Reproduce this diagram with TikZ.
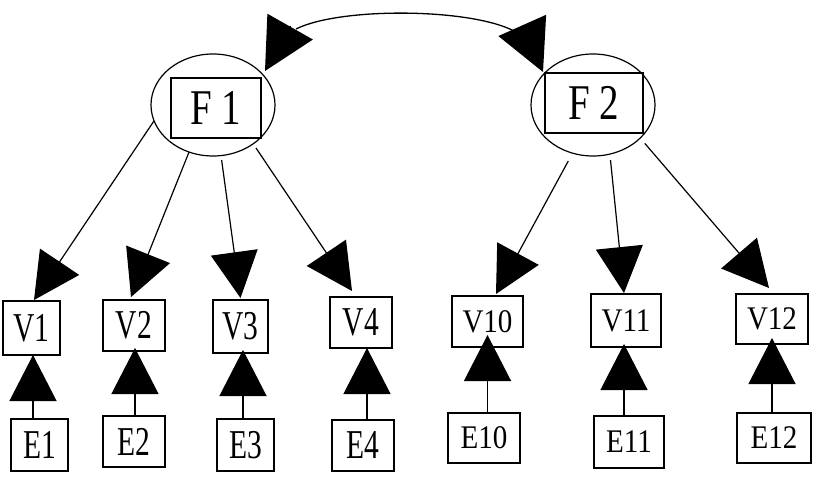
\documentclass[tikz,border=0pt]{standalone}
\usepackage{fontspec}
\setmainfont{Liberation Serif}
\usetikzlibrary{arrows.meta,shapes.geometric}
\newcommand\labA[1]{\fontsize{41}{41}\selectfont\scalebox{0.72}[1]{#1}}
\newcommand\labB[1]{\fontsize{33}{33}\selectfont\scalebox{0.88}[1]{#1}}
\newcommand\labF[1]{\fontsize{50}{50}\selectfont\scalebox{0.78}[1]{#1}}
\tikzset{
  box/.style={draw, line width=1.4pt, inner sep=0pt, outer sep=0pt},
  fell/.style={draw, ellipse, line width=1.2pt, inner sep=0pt, outer sep=0pt, minimum width=124pt, minimum height=102pt},
  larr/.style={line width=1.2pt, -{Triangle[length=46pt,width=47pt]}},
  carc/.style={line width=1.3pt},
  chead/.style={line width=1.3pt, -{Triangle[length=51pt,width=52pt]}}
}
\begin{document}
\begin{tikzpicture}[x=1pt,y=-1pt]
\useasboundingbox (0,0) rectangle (818,478);
% factors
\node[fell] (F1) at (213,105) {};
\node[box, minimum width=90pt, minimum height=60pt] (F1box) at (216,108) {\labF{F 1}};
\node[fell] (F2) at (593,105) {};
\node[box, minimum width=98pt, minimum height=60pt] (F2box) at (594,103) {\labF{F 2}};
% observed variables
\node[box, minimum width=57pt, minimum height=54pt] (V1) at (31.5,328) {\labA{V1}};
\node[box, minimum width=62pt, minimum height=51pt] (V2) at (134,325.5) {\labA{V2}};
\node[box, minimum width=55pt, minimum height=53pt] (V3) at (240.5,326.5) {\labA{V3}};
\node[box, minimum width=62pt, minimum height=51pt] (V4) at (361,322.5) {\labA{V4}};
\node[box, minimum width=71pt, minimum height=51pt] (V10) at (487.5,321.5) {\labB{V10}};
\node[box, minimum width=70pt, minimum height=53pt] (V11) at (626,320.5) {\labB{V11}};
\node[box, minimum width=72pt, minimum height=50pt] (V12) at (772,319) {\labB{V12}};
% errors
\node[box, minimum width=57pt, minimum height=52pt] (E1) at (39.5,445) {\labA{E1}};
\node[box, minimum width=62pt, minimum height=51pt] (E2) at (134,441.5) {\labA{E2}};
\node[box, minimum width=57pt, minimum height=52pt] (E3) at (245.5,445) {\labA{E3}};
\node[box, minimum width=62pt, minimum height=51pt] (E4) at (363,445.5) {\labA{E4}};
\node[box, minimum width=72pt, minimum height=50pt] (E10) at (484,438) {\labB{E10}};
\node[box, minimum width=70pt, minimum height=52pt] (E11) at (629,442) {\labB{E11}};
\node[box, minimum width=74pt, minimum height=50pt] (E12) at (774,438) {\labB{E12}};
% covariance arc
\coordinate (t1) at (265,71);
\coordinate (b1) at (290.5,26);
\coordinate (t2) at (543,72);
\coordinate (b2) at (522.5,26);
\coordinate (c1) at (296,29);
\coordinate (c2) at (514,31);
\draw[carc] (c1) .. controls (340,7) and (470,8) .. (c2);
\draw[chead] (b1) -- (t1);
\draw[chead] (b2) -- (t2);
% loadings
\draw[larr] (F1.195.6) -- ([xshift=2.5pt,yshift=1pt]V1.north);
\draw[larr] (F1.243) -- ([xshift=-3pt,yshift=3pt]V2.north);
\draw[larr, shorten <=4.5pt] (F1.279.4) -- ([yshift=2pt]V3.north);
\draw[larr, shorten <=5pt] (F1.316.7) -- ([xshift=-9pt,yshift=6pt]V4.north);
\draw[larr, shorten <=9pt] (F2.247.8) -- ([xshift=8.5pt,yshift=2pt]V10.north);
\draw[larr, shorten <=6pt] (F2.289.2) -- ([xshift=-2pt,yshift=1pt]V11.north);
\draw[larr, shorten <=7pt] (F2.325.4) -- ([xshift=-3pt,yshift=6pt]V12.north);
% error paths
\draw[larr] ([xshift=1.5pt]V1.south |- E1.north) -- ([xshift=1.5pt]V1.south);
\draw[larr] ([xshift=1pt]V2.south |- E2.north) -- ([xshift=1pt,yshift=3pt]V2.south);
\draw[larr] ([xshift=2.5pt]V3.south |- E3.north) -- ([xshift=2.5pt,yshift=3pt]V3.south);
\draw[larr] ([xshift=6pt]V4.south |- E4.north) -- ([xshift=6pt]V4.south);
\draw[larr] (V10.south |- E10.north) -- ([yshift=12pt]V10.south);
\draw[larr] ([xshift=-2pt]V11.south |- E11.north) -- ([xshift=-2pt,yshift=3pt]V11.south);
\draw[larr] (V12.south |- E12.north) -- ([yshift=6pt]V12.south);
\end{tikzpicture}
\end{document}
